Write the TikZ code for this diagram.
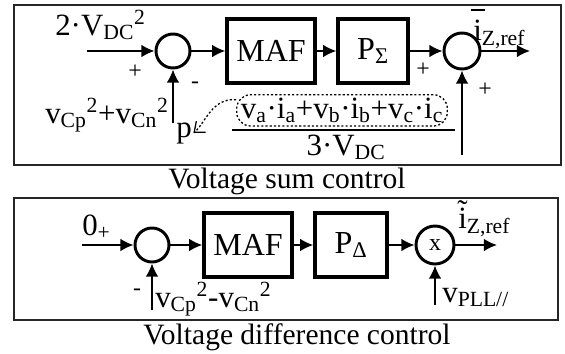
\documentclass[tikz,border=0pt]{standalone}
\usepackage{fontspec}
\setmainfont{Liberation Serif}
\usetikzlibrary{arrows.meta,positioning}

\newcommand{\accon}[2]{\sbox0{#2}#2\hspace{-\wd0}\makebox[\wd0][c]{#1}}
\newcommand{\lbsub}[1]{\textsubscript{#1}}
\newcommand{\lbsup}[1]{\textsuperscript{#1}}

\begin{document}
\begin{tikzpicture}[
  block/.style={draw=black, line width=2.4pt, minimum height=1.6cm, inner sep=0pt, font=\fontsize{22.8}{26}\selectfont},
  junc/.style={circle, draw=black, line width=2.1pt, inner sep=0pt},
  arrow/.style={-{Latex[length=3.3mm,width=3.2mm]}, draw=black, line width=1.4pt},
  frame/.style={draw=black!85, line width=1.4pt},
  lab/.style={font=\fontsize{22}{24}\selectfont, inner sep=0pt},
  sgn/.style={font=\fontsize{17}{18}\selectfont, inner sep=0pt},
  caption/.style={font=\fontsize{21}{23}\selectfont, inner sep=0pt}
]
\useasboundingbox (0,0) rectangle (14.125,-8.825);
% voltage sum control
\draw[frame] (0.35,-0.125) rectangle (14.025,-4.125);
\node[junc, minimum size=0.85cm] (sumA) at (4.325,-1.275) {};
\node[block, minimum width=2.2cm] (mafA) at (6.775,-1.275) {MAF};
\node[block, minimum width=1.75cm] (psum) at (9.325,-1.275) {P\lbsub{Σ}};
\node[junc, minimum size=0.9cm] (sumB) at (11.55,-1.275) {};
\coordinate (inA) at (2.175,-1.275);
\coordinate (outA) at (13.25,-1.275);
\coordinate (vcA) at (4.325,-3.075);
\coordinate (pwr) at (11.55,-3.875);
\draw[arrow] (inA) -- (sumA);
\draw[arrow] (sumA) -- (mafA);
\draw[arrow] (mafA) -- (psum);
\draw[arrow] (psum) -- (sumB);
\draw[arrow] (sumB) -- (outA);
\draw[arrow] (vcA) -- (sumA);
\draw[arrow] (pwr) -- (sumB);
\node[lab, anchor=base west] (vdc) at (1.375,-0.875) {2·V\lbsub{DC}\lbsup{2}};
\node[lab, anchor=base west] (vsum) at (1.125,-3.075) {v\lbsub{Cp}\lbsup{2}+v\lbsub{Cn}\lbsup{2}};
\node[sgn] (plA) at (3.375,-1.8) {+};
\node[sgn] (miA) at (4.875,-2.125) {-};
\node[sgn] (plB) at (10.575,-1.75) {+};
\node[sgn] (plC) at (12.125,-2.25) {+};
\node[lab, anchor=base west] (iref) at (11.825,-1.0) {\accon{\raisebox{0.95em}{\rule{0.45em}{0.9pt}}}{i}\lbsub{Z,ref}};
\node[lab, anchor=base, draw, dash pattern=on 1.5pt off 1.5pt, line width=0.9pt, rounded corners=0.35cm, inner xsep=3pt, inner ysep=2pt] (numer) at (8.55,-2.95) {v\lbsub{a}·i\lbsub{a}+v\lbsub{b}·i\lbsub{b}+v\lbsub{c}·i\lbsub{c}};
\node[lab, anchor=base] (denom) at (8.65,-3.875) {3·V\lbsub{DC}};
\coordinate (fracL) at (5.8,-3.25);
\coordinate (fracR) at (11.375,-3.25);
\draw[line width=1.2pt] (fracL) -- (fracR);
\node[lab, anchor=base] (p) at (4.6,-3.425) {p};
\draw[dash pattern=on 1.5pt off 1.5pt, line width=0.9pt, -{Straight Barb[length=2.2mm,width=3.6mm]}]
  ([yshift=-4pt]numer.north west) .. controls +(-0.6,0.05) and +(0.3,0.25) .. ([xshift=1pt]p.east);
\node[caption] (capA) at (7.175,-4.525) {Voltage sum control};
% voltage difference control
\draw[frame] (0.35,-4.95) rectangle (13.95,-8.0);
\node[junc, minimum size=0.85cm] (sumC) at (3.8,-6.125) {};
\node[block, minimum width=2.2cm] (mafB) at (6.2,-6.125) {MAF};
\node[block, minimum width=1.8cm] (pdel) at (8.775,-6.125) {P\lbsub{Δ}};
\node[junc, minimum size=0.95cm, font=\fontsize{17}{18}\selectfont] (mult) at (10.875,-6.125) {x};
\coordinate (inB) at (2.05,-6.125);
\coordinate (outB) at (12.425,-6.125);
\coordinate (vcB) at (3.8,-7.75);
\coordinate (vpll) at (10.875,-7.625);
\draw[arrow] (inB) -- (sumC);
\draw[arrow] (sumC) -- (mafB);
\draw[arrow] (mafB) -- (pdel);
\draw[arrow] (pdel) -- (mult);
\draw[arrow] (mult) -- (outB);
\draw[arrow] (vcB) -- (sumC);
\draw[arrow] (vpll) -- (mult);
\node[lab, anchor=base west] (zero) at (2.05,-5.875) {0\lbsub{+}};
\node[sgn] (miB) at (3.425,-7.3) {-};
\node[lab, anchor=base west] (vdiff) at (3.875,-7.675) {v\lbsub{Cp}\lbsup{2}-v\lbsub{Cn}\lbsup{2}};
\node[lab, anchor=base west] (itil) at (11.45,-5.7) {\accon{\raisebox{0.2em}{\char"02DC}}{i}\lbsub{Z,ref}};
\node[lab, anchor=base west] (vpl) at (11.05,-7.55) {v\lbsub{PLL//}};
\node[caption] (capB) at (7.425,-8.425) {Voltage difference control};
\end{tikzpicture}
\end{document}
